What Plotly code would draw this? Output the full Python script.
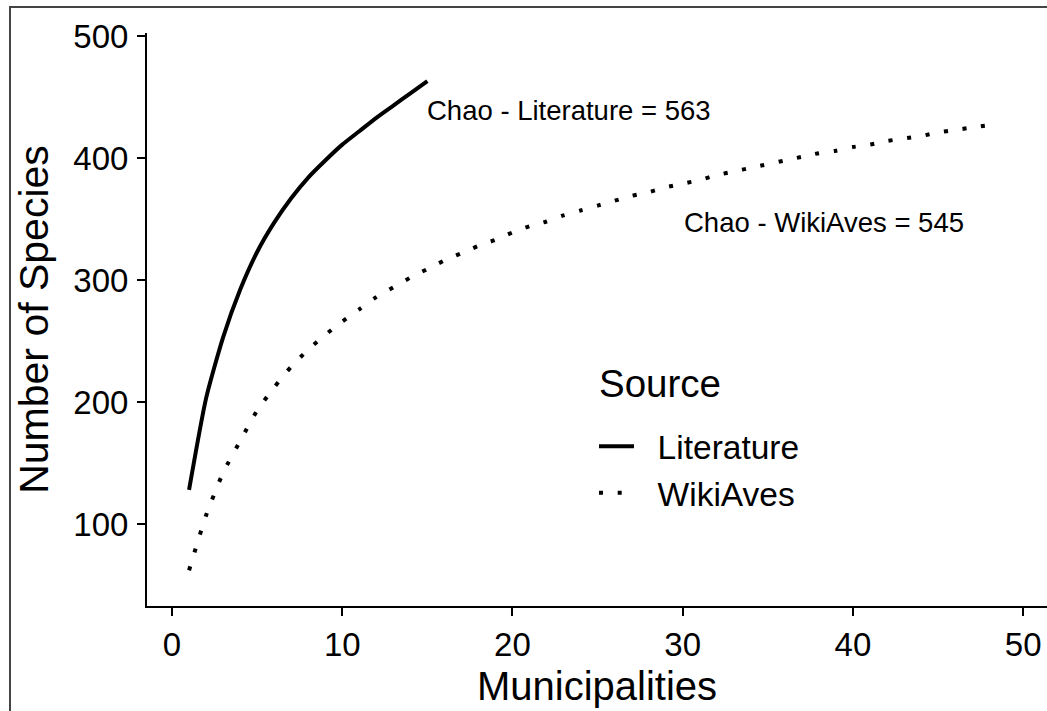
import plotly.graph_objects as go

# ---- data ----
lit_x = list(range(1, 16))
lit_y = [128, 203, 253, 292, 323, 347, 367, 384, 398, 411, 422, 433, 443, 453, 463]

wiki_x = list(range(1, 49))
wiki_y = [62, 107, 142, 168, 193, 212, 229, 243, 255, 266,
          276, 286, 294, 302, 309, 316, 322, 328, 333, 339,
          344, 348, 353, 357, 361, 365, 369, 372, 376, 379,
          382, 386, 389, 392, 395, 398, 401, 404, 406, 409,
          411, 414, 416, 418, 421, 423, 425, 427]

series_names = ["Literature", "WikiAves"]
legend_title = "Source"
chao_labels = ["Chao - Literature = 563", "Chao - WikiAves = 545"]
chao_pos_x = [23.3, 38.3]
chao_pos_y = [439, 347]

x_ticks = [0, 10, 20, 30, 40, 50]
y_ticks = [100, 200, 300, 400, 500]

FONT = "Liberation Sans, Arial, sans-serif"
PAD = "&nbsp;&nbsp;"

fig = go.Figure()
fig.add_trace(go.Scatter(x=lit_x, y=lit_y, mode="lines", name=PAD + series_names[0],
                         line=dict(color="black", width=4, shape="spline", smoothing=0.6)))
fig.add_trace(go.Scatter(x=wiki_x, y=wiki_y, mode="lines", name=PAD + series_names[1],
                         line=dict(color="black", width=4, dash="4px,14.7px",
                                   shape="spline", smoothing=0.6)))

for t, ax, ay in zip(chao_labels, chao_pos_x, chao_pos_y):
    fig.add_annotation(x=ax, y=ay, xref="x", yref="y", text=t, showarrow=False,
                       font=dict(family=FONT, size=27.5, color="black"),
                       xanchor="center", yanchor="middle")

# legend title
fig.add_annotation(x=(597 - 147) / 900, y=(606 - 384) / 573, xref="paper", yref="paper",
                   text=legend_title, showarrow=False, xanchor="left", yanchor="middle",
                   font=dict(family=FONT, size=38.5, color="black"))

# outer border of the image
fig.add_shape(type="rect", xref="paper", yref="paper",
              x0=(10 - 147) / 900, x1=1.1, y0=-0.5, y1=(606 - 7) / 573,
              line=dict(color="#444444", width=2), fillcolor="rgba(0,0,0,0)", layer="below")

fig.update_layout(
    width=1047, height=711,
    margin=dict(l=147, r=0, t=33, b=105, pad=0),
    paper_bgcolor="white", plot_bgcolor="white",
    font=dict(family=FONT, color="black"),
    showlegend=True,
    legend=dict(
        font=dict(family=FONT, size=33.5, color="black"),
        x=(594 - 147) / 900, y=(606 - 418) / 573, xanchor="left", yanchor="top",
        bgcolor="rgba(0,0,0,0)", borderwidth=0, itemwidth=35,
        tracegroupgap=0,
    ),
    xaxis=dict(
        range=[-1.47, 51.4], tickvals=x_ticks, ticktext=[str(v) for v in x_ticks],
        showgrid=False, zeroline=False, showline=True, linecolor="black", linewidth=2,
        ticks="outside", ticklen=8, tickwidth=2, tickcolor="black",
        tickfont=dict(family=FONT, size=33, color="black"),
        title=dict(text="Municipalities", font=dict(family=FONT, size=40, color="black"), standoff=10),
        automargin=False,
    ),
    yaxis=dict(
        range=[32.8, 502.5], tickvals=y_ticks, ticktext=[str(v) for v in y_ticks],
        showgrid=False, zeroline=False, showline=True, linecolor="black", linewidth=2,
        ticks="outside", ticklen=8, tickwidth=2, tickcolor="black",
        tickfont=dict(family=FONT, size=33, color="black"), ticklabelstandoff=2,
        title=dict(text="Number of Species", font=dict(family=FONT, size=41, color="black"), standoff=12),
        automargin=False,
    ),
)

fig.write_html("out.html", config={"displayModeBar": False},
               post_script="document.body.style.margin='0';document.body.style.overflow='hidden';")
